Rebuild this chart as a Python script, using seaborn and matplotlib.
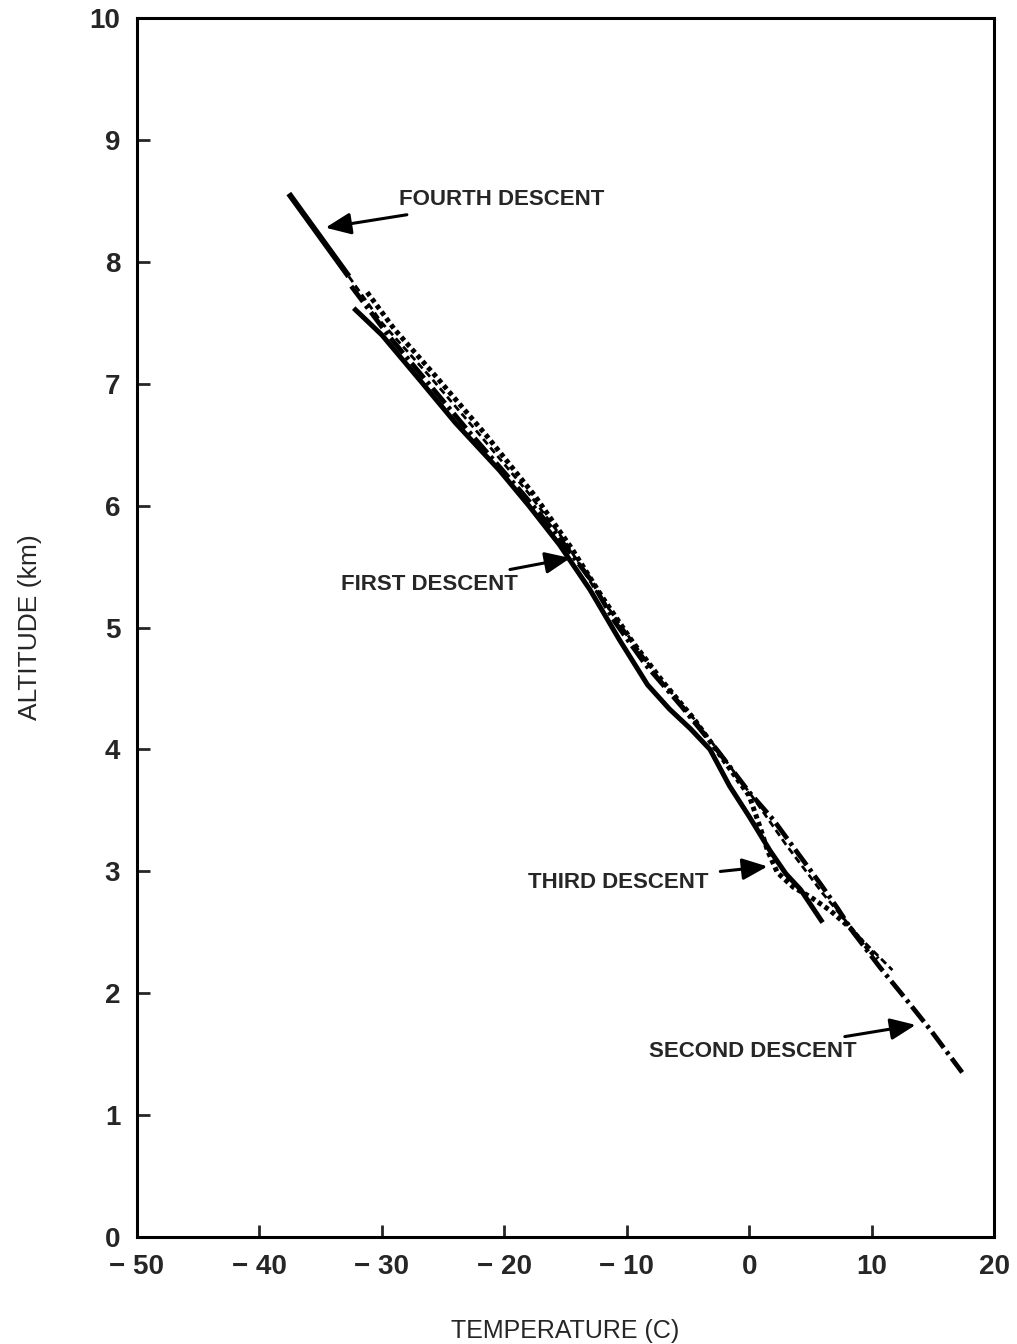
import matplotlib
matplotlib.use("Agg")
import matplotlib.pyplot as plt
import seaborn as sns
import pandas as pd

# ---- data ----
first_T = [-32.3, -30.0, -26.9, -24.0, -20.4, -18.0, -15.5, -13.0, -10.6, -8.3, -6.5, -4.8, -3.2, -1.6, 0.0, 1.7, 3.0, 4.2, 6.0]
first_alt = [7.62, 7.40, 7.03, 6.68, 6.29, 6.00, 5.68, 5.31, 4.90, 4.53, 4.33, 4.17, 4.00, 3.70, 3.45, 3.17, 2.98, 2.85, 2.58]

second_T = [-32.5, -29.5, -27.0, -23.0, -18.5, -16.0, -13.0, -11.0, -8.5, -5.5, -2.5, 0.0, 2.0, 3.6, 5.8, 7.2, 8.5, 10.7, 12.9, 14.8, 17.4]
second_alt = [7.80, 7.40, 7.10, 6.62, 6.10, 5.80, 5.40, 5.05, 4.70, 4.35, 3.98, 3.65, 3.42, 3.20, 2.90, 2.70, 2.50, 2.21, 1.94, 1.70, 1.35]

third_T = [-31.2, -29.0, -25.5, -21.5, -17.5, -14.5, -12.0, -9.5, -7.0, -4.5, -2.0, 0.0, 0.9, 1.5, 2.3, 3.6, 5.0, 6.6, 8.2, 9.6, 10.5]
third_alt = [7.75, 7.45, 7.05, 6.58, 6.08, 5.65, 5.25, 4.88, 4.55, 4.25, 3.90, 3.62, 3.36, 3.17, 2.99, 2.87, 2.79, 2.68, 2.54, 2.38, 2.28]

fourth_T = [-37.6, -32.7, -30.0, -26.0, -22.0, -18.0, -15.0, -12.5, -10.0, -7.5, -4.5, -2.0, 0.5, 3.0, 6.0, 9.0, 11.7]
fourth_alt = [8.56, 7.88, 7.50, 7.05, 6.58, 6.10, 5.70, 5.30, 4.95, 4.60, 4.25, 3.92, 3.58, 3.22, 2.82, 2.46, 2.19]

x_ticks = [-50, -40, -30, -20, -10, 0, 10, 20]
x_ticklabels = ["\u2212 50", "\u2212 40", "\u2212 30", "\u2212 20", "\u2212 10", "0", "10", "20"]
y_ticks = [0, 1, 2, 3, 4, 5, 6, 7, 8, 9, 10]

labels = ["FOURTH DESCENT", "FIRST DESCENT", "THIRD DESCENT", "SECOND DESCENT"]
label_text_xy = [(-28.6, 8.51), (-18.9, 5.35), (-3.3, 2.91), (8.8, 1.52)]
label_tip_xy = [(-34.6, 8.28), (-14.6, 5.57), (1.5, 3.04), (13.6, 1.74)]
label_ha = ["left", "right", "right", "right"]

# ---- style ----
sns.set_style("ticks")
plt.rcParams['font.family'] = ['Liberation Sans', 'DejaVu Sans']
plt.rcParams['lines.scale_dashes'] = False

fig = plt.figure(figsize=(10.17, 13.44), dpi=100)
ax = fig.add_axes([0.1347, 0.0796, 0.8427, 0.907])

def draw(T, alt, **kw):
    df = pd.DataFrame({"T": T, "alt": alt})
    sns.lineplot(data=df, x="T", y="alt", sort=False, estimator=None, ax=ax, color="black", **kw)

# First descent: solid
draw(first_T, first_alt, linewidth=3.6, solid_capstyle="butt")
# Second descent: long dash (dash-dot)
draw(second_T, second_alt, linewidth=3.4)
ax.lines[-1].set_dashes((14, 3.5, 2.5, 3.5))
ax.lines[-1].set_dash_capstyle("butt")
# Third descent: dotted
draw(third_T, third_alt, linewidth=3.6)
ax.lines[-1].set_dashes((3.2, 2.6))
ax.lines[-1].set_dash_capstyle("butt")
# Fourth descent: solid head, dashed rest
draw(fourth_T[:2], fourth_alt[:2], linewidth=4.2, solid_capstyle="butt")
draw(fourth_T[1:], fourth_alt[1:], linewidth=2.0)
ax.lines[-1].set_dashes((5, 3))
ax.lines[-1].set_dash_capstyle("butt")

for txt, (tx, ty), (px, py), ha in zip(labels, label_text_xy, label_tip_xy, label_ha):
    ax.annotate(txt, xy=(px, py), xytext=(tx, ty), ha=ha, va="center",
                fontsize=16, fontweight="bold",
                arrowprops=dict(arrowstyle="-|>,head_length=0.7,head_width=0.3", color="black", lw=2.2,
                                mutation_scale=22, shrinkA=6, shrinkB=0))

ax.set_xlim(-50, 20)
ax.set_ylim(0, 10)
ax.set_xticks(x_ticks)
ax.set_xticklabels(x_ticklabels)
ax.set_yticks(y_ticks)
ax.tick_params(direction="in", length=9, width=2, labelsize=20, pad=12)
for lab in ax.get_xticklabels() + ax.get_yticklabels():
    lab.set_fontweight("bold")
for s in ax.spines.values():
    s.set_linewidth(2.2)
    s.set_color("black")
ax.set_xlabel("TEMPERATURE (C)", fontsize=18, labelpad=28)
ax.set_ylabel("ALTITUDE (km)", fontsize=19, labelpad=34)

fig.savefig("out.png", dpi=100, facecolor="white")
